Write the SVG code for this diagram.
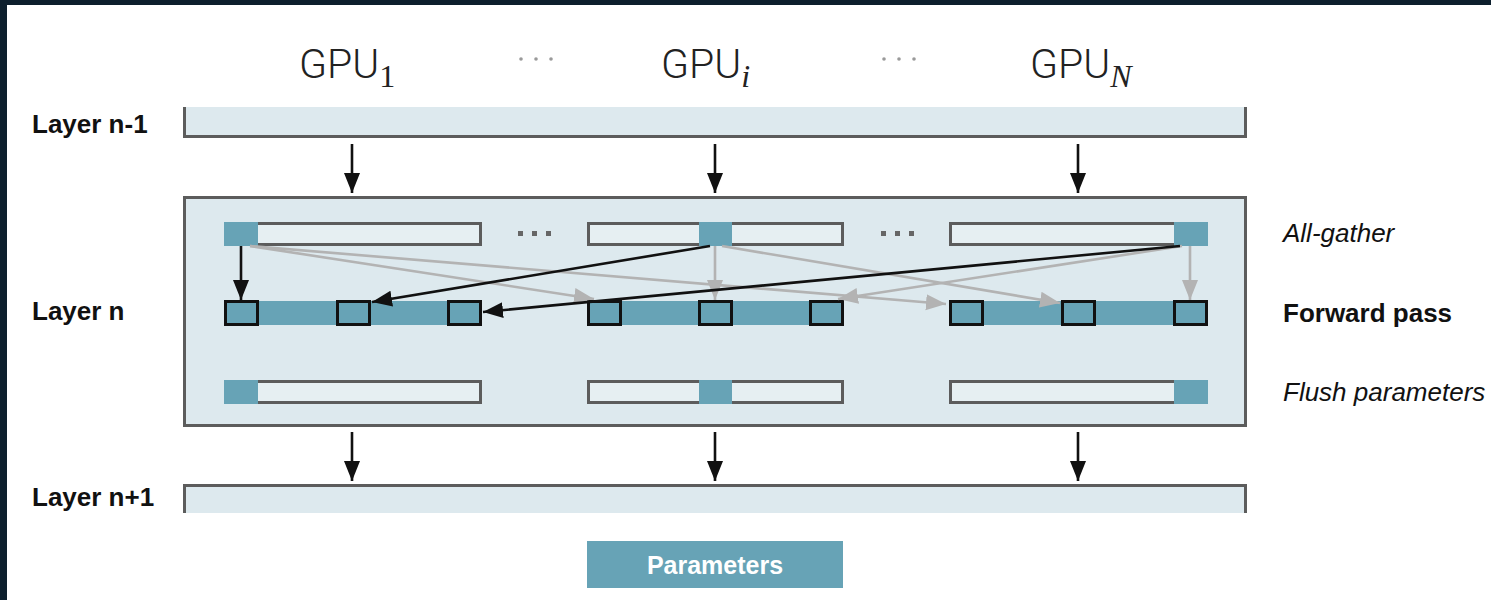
<svg xmlns="http://www.w3.org/2000/svg" width="1491" height="600" viewBox="0 0 1491 600">
  <style>
    .lbl { font-family: "Liberation Sans", Arial, sans-serif; font-size: 26px; fill: #111; }
    .b { font-weight: bold; }
    .it { font-style: italic; }
    .gpu { font-family: Roboto, "Liberation Sans", sans-serif; font-weight: 300; font-size: 41px; fill: #222; }
    .sub { font-family: "Liberation Serif", serif; font-size: 32px; fill: #222; }
    .layer { fill: #dde9ee; }
    .edge { fill: none; stroke: #5c5c5c; stroke-width: 3; }
    .shard { fill: #e6eff2; stroke: #5c5c5c; stroke-width: 3; }
    .chunk { fill: #67a3b6; }
    .slot { fill: #67a3b6; stroke: #111; stroke-width: 3; }
    .flow { stroke: #111; stroke-width: 2.6; fill: none; }
    .gflow { stroke: #b3b3b3; stroke-width: 2.6; fill: none; }
    .dot { fill: #666; }
    .ldot { fill: #9a9a9a; }
  </style>
  <defs>
    <marker id="ah" markerUnits="userSpaceOnUse" markerWidth="22" markerHeight="18" refX="20" refY="8" orient="auto">
      <path d="M0,0 L20,8 L0,16 Z" fill="#111"/>
    </marker>
    <marker id="ahg" markerUnits="userSpaceOnUse" markerWidth="22" markerHeight="18" refX="20" refY="8" orient="auto">
      <path d="M0,0 L20,8 L0,16 Z" fill="#b3b3b3"/>
    </marker>
  </defs>

  <!-- page frame -->
  <rect x="0" y="0" width="1491" height="600" fill="#ffffff"/>
  <rect x="0" y="0" width="1491" height="5" fill="#0d1f2d"/>
  <rect x="0" y="0" width="7" height="600" fill="#0d1f2d"/>

  <!-- column headers -->
  <g id="gpu-headers">
    <text class="gpu" x="299" y="78">GPU<tspan class="sub" dy="9">1</tspan></text>
    <text class="gpu" x="661" y="78">GPU<tspan class="sub it" dy="9">i</tspan></text>
    <text class="gpu" x="1030" y="78">GPU<tspan class="sub it" dy="9">N</tspan></text>
    <g id="hdots1"><circle class="ldot" cx="521" cy="59" r="1.8"/><circle class="ldot" cx="536" cy="59" r="1.8"/><circle class="ldot" cx="551" cy="59" r="1.8"/></g>
    <g id="hdots2"><circle class="ldot" cx="884" cy="59" r="1.8"/><circle class="ldot" cx="899" cy="59" r="1.8"/><circle class="ldot" cx="914" cy="59" r="1.8"/></g>
  </g>

  <!-- layer n-1 -->
  <g id="layer-prev">
    <rect class="layer" x="184" y="107" width="1062" height="30"/>
    <path class="edge" d="M184.5,107 V136.5 H1245.5 V107"/>
    <text class="lbl b" x="32" y="133">Layer n-1</text>
  </g>

  <!-- layer n -->
  <g id="layer-n">
    <rect class="layer" x="184.5" y="197.5" width="1061" height="228" stroke="#5c5c5c" stroke-width="3"/>
    <text class="lbl b" x="32" y="320">Layer n</text>
  </g>

  <!-- all-gather row -->
  <g id="gather-1">
    <rect class="shard" x="225.5" y="223.5" width="255" height="21"/>
    <rect class="chunk" x="224" y="222" width="34" height="24"/>
  </g>
  <g id="gather-i">
    <rect class="shard" x="588.5" y="223.5" width="254" height="21"/>
    <rect class="chunk" x="699" y="222" width="33" height="24"/>
  </g>
  <g id="gather-n">
    <rect class="shard" x="950.5" y="223.5" width="256" height="21"/>
    <rect class="chunk" x="1174" y="222" width="34" height="24"/>
  </g>
  <g id="gather-dots">
    <rect class="dot" x="518" y="231" width="5" height="5"/><rect class="dot" x="532" y="231" width="5" height="5"/><rect class="dot" x="546" y="231" width="5" height="5"/>
    <rect class="dot" x="881" y="231" width="5" height="5"/><rect class="dot" x="895" y="231" width="5" height="5"/><rect class="dot" x="909" y="231" width="5" height="5"/>
  </g>

  <!-- forward pass row -->
  <g id="forward-1">
    <rect class="chunk" x="225" y="301" width="256" height="24"/>
    <rect class="slot" x="225.5" y="301.5" width="32" height="23"/>
    <rect class="slot" x="337.5" y="301.5" width="32" height="23"/>
    <rect class="slot" x="448.5" y="301.5" width="32" height="23"/>
  </g>
  <g id="forward-i">
    <rect class="chunk" x="588" y="301" width="255" height="24"/>
    <rect class="slot" x="588.5" y="301.5" width="32" height="23"/>
    <rect class="slot" x="699.5" y="301.5" width="32" height="23"/>
    <rect class="slot" x="810.5" y="301.5" width="32" height="23"/>
  </g>
  <g id="forward-n">
    <rect class="chunk" x="950" y="301" width="257" height="24"/>
    <rect class="slot" x="950.5" y="301.5" width="32" height="23"/>
    <rect class="slot" x="1062.5" y="301.5" width="32" height="23"/>
    <rect class="slot" x="1174.5" y="301.5" width="32" height="23"/>
  </g>

  <!-- flush row -->
  <g id="flush-1">
    <rect class="shard" x="225.5" y="381.5" width="255" height="21"/>
    <rect class="chunk" x="224" y="380" width="34" height="24"/>
  </g>
  <g id="flush-i">
    <rect class="shard" x="588.5" y="381.5" width="254" height="21"/>
    <rect class="chunk" x="699" y="380" width="33" height="24"/>
  </g>
  <g id="flush-n">
    <rect class="shard" x="950.5" y="381.5" width="256" height="21"/>
    <rect class="chunk" x="1174" y="380" width="34" height="24"/>
  </g>

  <!-- layer n+1 -->
  <g id="layer-next">
    <rect class="layer" x="184" y="485" width="1062" height="28"/>
    <path class="edge" d="M184.5,513 V485.5 H1245.5 V513"/>
    <text class="lbl b" x="32" y="506">Layer n+1</text>
  </g>

  <!-- step labels -->
  <g id="step-labels">
    <text class="lbl it" x="1283" y="242">All-gather</text>
    <text class="lbl b" x="1283" y="322">Forward pass</text>
    <text class="lbl it" x="1283" y="401">Flush parameters</text>
  </g>

  <!-- legend -->
  <g id="legend">
    <rect x="587" y="541" width="256" height="47" fill="#67a3b6"/>
    <text class="lbl b" x="715" y="574" text-anchor="middle" style="fill:#fff;font-size:25px">Parameters</text>
  </g>

  <!-- connectors -->
  <g id="connectors">
    <!-- between layers -->
    <line class="flow" x1="352" y1="144" x2="352" y2="193" marker-end="url(#ah)"/>
    <line class="flow" x1="715" y1="144" x2="715" y2="193" marker-end="url(#ah)"/>
    <line class="flow" x1="1078" y1="144" x2="1078" y2="193" marker-end="url(#ah)"/>
    <line class="flow" x1="352" y1="432" x2="352" y2="481" marker-end="url(#ah)"/>
    <line class="flow" x1="715" y1="432" x2="715" y2="481" marker-end="url(#ah)"/>
    <line class="flow" x1="1078" y1="432" x2="1078" y2="481" marker-end="url(#ah)"/>

    <!-- gathered shards to other ranks -->
    <line class="gflow" x1="250" y1="246" x2="594" y2="299" marker-end="url(#ahg)"/>
    <line class="gflow" x1="250" y1="246" x2="946" y2="304" marker-end="url(#ahg)"/>
    <line class="gflow" x1="715" y1="246" x2="715" y2="300" marker-end="url(#ahg)"/>
    <line class="gflow" x1="722" y1="246" x2="1060" y2="303" marker-end="url(#ahg)"/>
    <line class="gflow" x1="1182" y1="246" x2="838" y2="299" marker-end="url(#ahg)"/>
    <line class="gflow" x1="1190" y1="246" x2="1190" y2="300" marker-end="url(#ahg)"/>

    <!-- gathered shards to rank 1 -->
    <line class="flow" x1="241" y1="246" x2="241" y2="300" marker-end="url(#ah)"/>
    <line class="flow" x1="710" y1="246" x2="372" y2="302" marker-end="url(#ah)"/>
    <line class="flow" x1="1180" y1="246" x2="483" y2="312" marker-end="url(#ah)"/>
  </g>
</svg>
